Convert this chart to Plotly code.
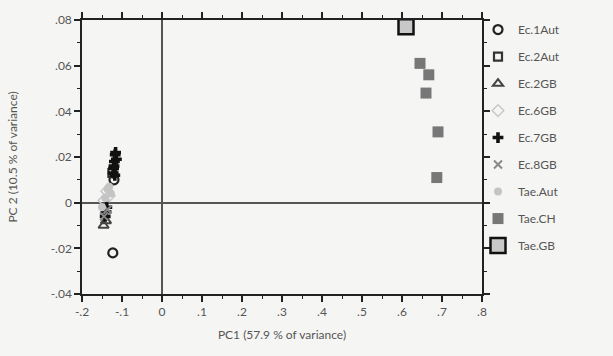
import plotly.graph_objects as go

# ---- data ----
ec1aut_x = [-0.120, -0.123]
ec1aut_y = [0.010, -0.022]
ec2aut_x = [-0.124]
ec2aut_y = [0.013]
ec2gb_x = [-0.146, -0.140]
ec2gb_y = [-0.010, -0.008]
ec6gb_x = [-0.138, -0.132, -0.145]
ec6gb_y = [0.005, 0.003, 0.001]
ec7gb_x = [-0.117, -0.119, -0.121, -0.114, -0.120, -0.116, -0.122, -0.118, -0.138, -0.142, -0.140]
ec7gb_y = [0.021, 0.018, 0.015, 0.019, 0.016, 0.022, 0.013, 0.012, -0.002, -0.006, -0.004]
ec8gb_x = [-0.136, -0.145]
ec8gb_y = [-0.003, -0.006]
taeaut_x = [-0.136, -0.128, -0.150, -0.142, -0.132]
taeaut_y = [0.006, 0.004, -0.002, 0.002, 0.007]
taech_x = [0.645, 0.667, 0.660, 0.690, 0.687]
taech_y = [0.061, 0.056, 0.048, 0.031, 0.011]
taegb_x = [0.610]
taegb_y = [0.077]

series = [
    ("Ec.1Aut", ec1aut_x, ec1aut_y, dict(symbol="circle-open", size=9, color="#222", line=dict(width=2.2, color="#222"))),
    ("Ec.2Aut", ec2aut_x, ec2aut_y, dict(symbol="square-open", size=8, color="#333", line=dict(width=2.2, color="#333"))),
    ("Ec.2GB", ec2gb_x, ec2gb_y, dict(symbol="triangle-up-open", size=9, color="#444", line=dict(width=2, color="#444"))),
    ("Ec.6GB", ec6gb_x, ec6gb_y, dict(symbol="diamond-open", size=9, color="#c8c8c8", line=dict(width=1.5, color="#c8c8c8"))),
    ("Ec.7GB", ec7gb_x, ec7gb_y, dict(symbol="cross", size=9, color="#111", line=dict(width=0))),
    ("Ec.8GB", ec8gb_x, ec8gb_y, dict(symbol="x-thin-open", size=8, color="#888", line=dict(width=2, color="#888"))),
    ("Tae.Aut", taeaut_x, taeaut_y, dict(symbol="circle", size=8, color="#c4c4c4", line=dict(width=0))),
    ("Tae.CH", taech_x, taech_y, dict(symbol="square", size=11, color="#777", line=dict(width=0))),
    ("Tae.GB", taegb_x, taegb_y, dict(symbol="square", size=15, color="#c8c8c8", line=dict(width=2.5, color="#111"))),
]

x_ticks = [-0.2, -0.1, 0, 0.1, 0.2, 0.3, 0.4, 0.5, 0.6, 0.7, 0.8]
x_labels = ["-.2", "-.1", "0", ".1", ".2", ".3", ".4", ".5", ".6", ".7", ".8"]
y_ticks = [-0.04, -0.02, 0, 0.02, 0.04, 0.06, 0.08]
y_labels = ["-.04", "-.02", "0", ".02", ".04", ".06", ".08"]

fig = go.Figure()
for i, (name, xs, ys, mk) in enumerate(series):
    fig.add_trace(go.Scatter(x=xs, y=ys, mode="markers", name=name, marker=mk,
                             legendgroup=name))

axis_common = dict(
    showline=True, linecolor="#222", linewidth=1.5, mirror="ticks",
    ticks="outside", ticklen=6, tickwidth=1.5, tickcolor="#222",
    showgrid=False, zeroline=True, zerolinecolor="#555", zerolinewidth=1.5,
    tickfont=dict(size=12, color="#555"),
    minor=dict(ticks="outside", ticklen=3, tickwidth=1.2, tickcolor="#222"),
)

fig.update_xaxes(range=[-0.2, 0.8], tickvals=x_ticks, ticktext=x_labels,
                 title=dict(text="PC1 (57.9 % of variance)", font=dict(size=12, color="#555"), standoff=12),
                 minor_dtick=0.05, **axis_common)
fig.update_yaxes(range=[-0.04, 0.08], tickvals=y_ticks, ticktext=y_labels,
                 title=dict(text="PC 2 (10.5 % of variance)", font=dict(size=12, color="#555"), standoff=30),
                 minor_dtick=0.01, **axis_common)

fig.update_layout(
    width=613, height=356,
    margin=dict(l=82, r=131, t=18, b=62),
    paper_bgcolor="#f5f5f3", plot_bgcolor="#f5f5f3",
    font=dict(family="Lato, Roboto, sans-serif", color="#555"),
    legend=dict(x=0.99, y=1.018, xanchor="left", yanchor="top",
                font=dict(size=12, color="#555"), tracegroupgap=8,
                bgcolor="rgba(0,0,0,0)", itemsizing="trace", maxheight=340),
    showlegend=True,
)

fig.write_html("out.html", config={"displayModeBar": False},
               post_script="document.body.style.margin='0';")
